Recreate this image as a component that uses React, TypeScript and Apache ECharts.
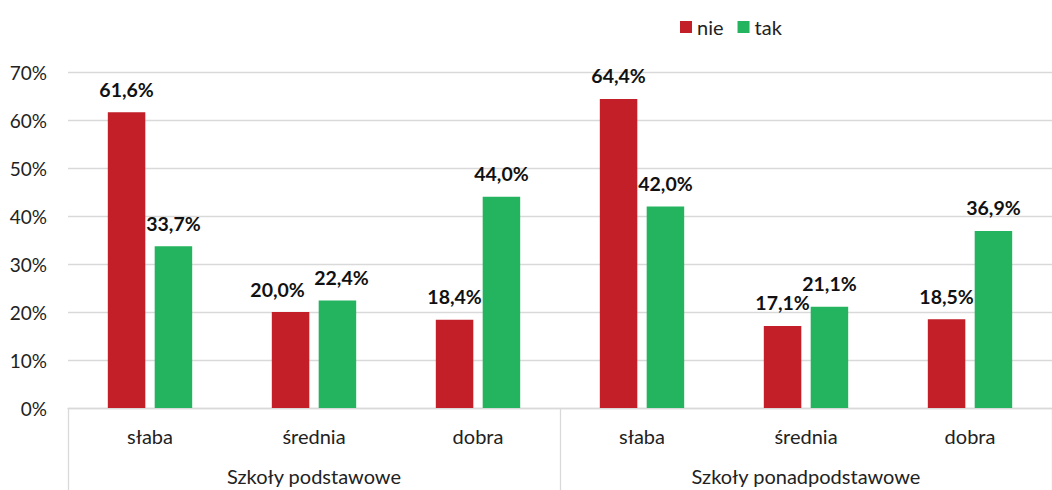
import React, { useEffect, useRef } from "react";
import * as echarts from "echarts";

const categories = ["słaba", "średnia", "dobra", "słaba", "średnia", "dobra"];
const groups = ["Szkoły podstawowe", "Szkoły ponadpodstawowe"];
const nieValues = [61.6, 20.0, 18.4, 64.4, 17.1, 18.5];
const takValues = [33.7, 22.4, 44.0, 42.0, 21.1, 36.9];
const seriesNames = ["nie", "tak"];
const yTicks = { min: 0, max: 70, interval: 10 };

const RED = "#C21F29";
const GREEN = "#24B35E";
const FONT = "Lato, 'Open Sans', sans-serif";

const fmt = (v: number) => v.toFixed(1).replace(".", ",") + "%";

// horizontal nudges of a few data labels (Excel moved them to avoid overlap)
const nieLabelShift = [0, -13, 0, 0, 0, 0];
const takLabelShift = [0, 4, 0, 0, 0, 0];

export default function App() {
  const ref = useRef<HTMLDivElement>(null);
  useEffect(() => {
    document.body.style.margin = "0";
    if (!ref.current) return;
    const chart = echarts.init(ref.current, undefined, { renderer: "svg" });
    const label = {
      show: true,
      position: "top" as const,
      distance: 13,
      fontFamily: FONT,
      fontWeight: "bold" as const,
      fontSize: 19.5,
      color: "#111",
      formatter: (p: any) => fmt(p.value),
    };
    const build = (vals: number[], shifts: number[]) =>
      vals.map((v, i) => (shifts[i] ? { value: v, label: { offset: [shifts[i], 0] } } : v));
    chart.setOption({
      animation: false,
      textStyle: { fontFamily: FONT },
      legend: {
        left: 680,
        top: 17,
        padding: 0,
        itemWidth: 12,
        itemHeight: 12,
        itemGap: 14,
        icon: "rect",
        textStyle: { fontFamily: FONT, fontSize: 20, color: "#222" },
        data: seriesNames,
      },
      grid: { left: 68, top: 72, width: 993, height: 336, containLabel: false },
      yAxis: {
        type: "value",
        min: yTicks.min,
        max: yTicks.max,
        interval: yTicks.interval,
        axisLine: { show: false },
        axisTick: { show: false },
        splitLine: { lineStyle: { color: "#D9D9D9", width: 1.3 } },
        axisLabel: {
          formatter: "{value}%",
          fontFamily: FONT,
          fontSize: 19,
          color: "#222",
          margin: 21,
        },
      },
      xAxis: [
        {
          type: "category",
          data: categories,
          position: "bottom",
          axisLine: { show: true, lineStyle: { color: "#D9D9D9", width: 1.3 } },
          axisTick: { show: false },
          axisLabel: { fontFamily: FONT, fontSize: 20, color: "#222", margin: 18, interval: 0 },
        },
        {
          type: "category",
          data: groups,
          position: "bottom",
          axisLine: { show: false },
          axisTick: { show: true, length: 82, lineStyle: { color: "#D9D9D9", width: 1.3 } },
          axisLabel: { fontFamily: FONT, fontSize: 20, color: "#222", margin: 58, interval: 0 },
          splitLine: { show: false },
        },
      ],
      series: [
        {
          name: seriesNames[0],
          type: "bar",
          xAxisIndex: 0,
          data: build(nieValues, nieLabelShift),
          barWidth: 37.5,
          barGap: "25%",
          itemStyle: { color: RED },
          label,
        },
        {
          name: seriesNames[1],
          type: "bar",
          xAxisIndex: 0,
          data: build(takValues, takLabelShift),
          barWidth: 37.5,
          barGap: "25%",
          itemStyle: { color: GREEN },
          label,
        },
      ],
    });
    return () => chart.dispose();
  }, []);
  return <div ref={ref} style={{ width: 1052, height: 490 }} />;
}
